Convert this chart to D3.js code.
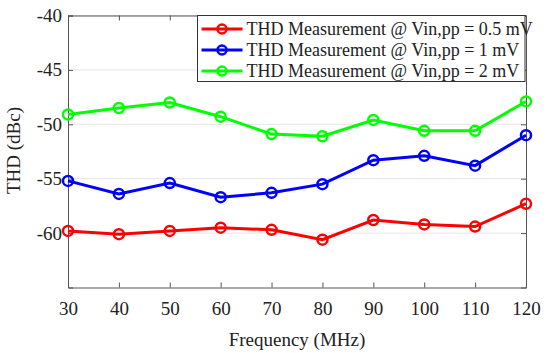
<!DOCTYPE html>
<html>
<head>
<meta charset="utf-8">
<script src="https://cdnjs.cloudflare.com/ajax/libs/d3/7.8.5/d3.min.js"></script>
<style>
  body { margin: 0; background: #fff; }
  text { font-family: "Liberation Serif", "Times New Roman", serif; fill: #222; }
</style>
</head>
<body>
<div id="container"></div>
<script>
var freqs = [30, 40, 50, 60, 70, 80, 90, 100, 110, 120];
var thd05 = [-59.8, -60.1, -59.8, -59.5, -59.7, -60.6, -58.8, -59.2, -59.4, -57.3];
var thd1  = [-55.2, -56.4, -55.4, -56.7, -56.3, -55.5, -53.3, -52.9, -53.8, -51.0];
var thd2  = [-49.1, -48.5, -48.0, -49.3, -50.9, -51.1, -49.6, -50.6, -50.6, -47.9];
var yTicks = [-60, -55, -50, -45, -40];
var seriesNames = ["THD Measurement @ Vin,pp = 0.5 mV",
                   "THD Measurement @ Vin,pp = 1 mV",
                   "THD Measurement @ Vin,pp = 2 mV"];
var seriesColors = ["#ff0000", "#0000ff", "#00ff00"];

var margin = {top: 15.5, right: 24, bottom: 65.5, left: 68},
    width = 550 - margin.left - margin.right,
    height = 353 - margin.top - margin.bottom;

var serif = '"Liberation Serif", "Times New Roman", serif';

function drawChart() {
    var svg = d3.select("#container")
      .append("svg")
        .attr("width", 550)
        .attr("height", 353)
      .append("g")
        .attr("transform", "translate(" + margin.left + "," + margin.top + ")");

    var x = d3.scaleLinear().domain([30, 120]).range([0, width]);
    var y = d3.scaleLinear().domain([-65, -40]).range([height, 0]);

    // grid
    svg.selectAll(".grid")
        .data(yTicks)
        .enter()
        .append("line")
        .attr("x1", 0).attr("x2", width)
        .attr("y1", function(d) { return y(d); })
        .attr("y2", function(d) { return y(d); })
        .attr("stroke", "#e6e6e6")
        .attr("stroke-width", 1);

    var tickIn = 5;
    var xAxis = d3.axisBottom(x).tickValues(freqs).tickSize(-tickIn).tickPadding(14);
    var yAxis = d3.axisLeft(y).tickValues(yTicks).tickSize(-tickIn).tickPadding(6);

    var gx = svg.append("g").attr("transform", "translate(0," + height + ")").call(xAxis);
    var gy = svg.append("g").call(yAxis);
    var gxt = svg.append("g").call(d3.axisTop(x).tickValues(freqs).tickSize(-tickIn).tickFormat(""));
    var gyr = svg.append("g").attr("transform", "translate(" + width + ",0)")
        .call(d3.axisRight(y).tickValues(yTicks).tickSize(-tickIn).tickFormat(""));

    [gx, gy, gxt, gyr].forEach(function(g) {
        g.attr("font-family", serif);
        g.select(".domain").attr("stroke", "#555").attr("stroke-width", 1);
        g.selectAll(".tick line").attr("stroke", "#555");
        g.selectAll("text").style("font-size", "19px").style("font-family", serif).attr("fill", "#222");
    });
    gy.selectAll(".tick text").text(function(d) { return "-" + Math.abs(d); });

    svg.append("text")
        .attr("x", width / 2)
        .attr("y", height + 58)
        .attr("text-anchor", "middle")
        .style("font-size", "19px")
        .text("Frequency (MHz)");

    svg.append("text")
        .attr("transform", "translate(" + (-48) + "," + (height / 2 - 1) + ") rotate(-90)")
        .attr("text-anchor", "middle")
        .style("font-size", "19px")
        .text("THD (dBc)");

    var series = [thd05, thd1, thd2];
    var line = d3.line()
        .x(function(d, i) { return x(freqs[i]); })
        .y(function(d) { return y(d); });

    series.forEach(function(vals, k) {
        svg.append("path")
            .datum(vals)
            .attr("fill", "none")
            .attr("stroke", seriesColors[k])
            .attr("stroke-width", 3)
            .attr("d", line);
        svg.selectAll(".m" + k)
            .data(vals)
            .enter()
            .append("circle")
            .attr("cx", function(d, i) { return x(freqs[i]); })
            .attr("cy", function(d) { return y(d); })
            .attr("r", 5)
            .attr("fill", "none")
            .attr("stroke", seriesColors[k])
            .attr("stroke-width", 2.5);
    });

    // legend
    var lg = svg.append("g").attr("transform", "translate(" + (197.5 - margin.left) + ",0)");
    lg.append("rect")
        .attr("x", 0).attr("y", 0)
        .attr("width", 327.5).attr("height", 66)
        .attr("fill", "#fff")
        .attr("stroke", "#333")
        .attr("stroke-width", 1);
    seriesNames.forEach(function(name, k) {
        var ry = 13.5 + k * 21;
        lg.append("line")
            .attr("x1", 4).attr("x2", 45)
            .attr("y1", ry).attr("y2", ry)
            .attr("stroke", seriesColors[k]).attr("stroke-width", 3);
        lg.append("circle")
            .attr("cx", 24.5).attr("cy", ry).attr("r", 4.5)
            .attr("fill", "none")
            .attr("stroke", seriesColors[k]).attr("stroke-width", 2.5);
        lg.append("text")
            .attr("x", 49)
            .attr("y", ry + 6)
            .style("font-size", "18px")
            .text(name);
    });
}

drawChart();
</script>
</body>
</html>
